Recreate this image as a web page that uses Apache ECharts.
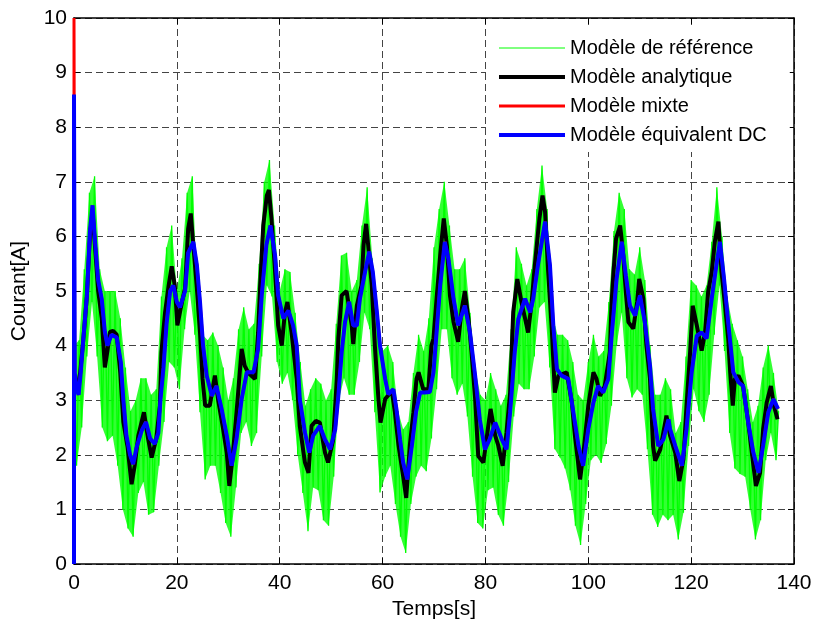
<!DOCTYPE html>
<html><head><meta charset="utf-8">
<script src="https://cdn.jsdelivr.net/npm/echarts@6/dist/echarts.min.js"></script>
<style>html,body{margin:0;padding:0;background:#fff}#c{width:814px;height:620px}</style>
</head><body><div id="c"></div>
<script>
// Series names (legend)
const seriesNames = ['Modèle de référence', 'Modèle analytique', 'Modèle mixte', 'Modèle équivalent DC'];

// Reference model: upper excursions at t = 0,1,2,... and lower excursions at t = 0.5,1.5,...
const refUpper = [4.0,4.1,5.4,6.8,7.1,5.4,5.0,5.0,5.0,4.5,
 3.6,2.8,3.0,3.4,3.4,3.1,3.2,4.9,5.8,6.2,
 5.0,5.6,6.8,7.1,5.0,4.2,4.1,4.24,4.0,3.6,
 3.0,3.4,4.3,4.7,4.3,4.4,5.5,7.0,7.4,6.2,
 5.0,5.4,5.35,4.6,3.7,2.9,3.2,3.4,3.3,3.0,
 3.2,4.4,5.65,5.7,5.0,5.2,6.2,6.9,5.6,4.5,
 3.9,4.0,3.7,2.8,2.47,2.6,3.5,4.2,3.9,4.5,
 5.8,6.5,7.0,6.2,5.4,5.4,5.6,4.6,3.6,3.1,
 3.0,3.5,3.2,2.9,3.1,4.3,5.8,5.5,5.1,5.4,
 6.5,7.3,6.5,4.6,4.2,4.2,4.1,3.7,3.1,3.0,
 3.7,4.2,3.8,3.9,4.8,6.1,6.8,6.5,5.4,5.3,
 5.8,5.2,4.0,3.1,3.1,3.4,3.2,2.4,2.6,3.8,
 5.2,5.1,4.9,5.1,5.9,6.9,6.0,4.9,4.4,4.1,
 3.8,3.2,2.6,2.9,3.6,4.0,3.5,2.8];
const refLower = [1.8,2.5,3.8,4.8,3.8,2.5,2.25,2.35,1.8,1.0,
 0.65,0.5,1.3,1.5,0.9,0.95,1.8,2.6,3.7,3.6,
 3.2,4.3,5.0,4.2,2.78,1.55,1.8,1.8,1.3,0.75,
 0.5,1.4,2.4,2.6,2.16,2.4,3.8,5.1,4.9,3.7,
 3.3,3.5,3.0,2.0,1.3,0.6,1.4,1.35,0.8,0.7,
 1.6,3.0,3.4,3.1,3.1,3.7,4.6,4.3,2.78,1.31,
 1.6,1.8,1.1,0.5,0.2,1.1,1.6,1.8,1.7,2.3,
 3.2,4.3,4.3,3.4,3.1,3.3,2.7,1.6,0.75,0.65,
 1.35,1.4,0.9,0.7,1.5,2.7,3.3,3.2,3.2,3.8,
 4.7,4.8,3.6,2.1,1.95,1.75,1.35,0.7,0.35,1.1,
 1.9,2.0,1.85,2.2,2.9,4.0,4.6,3.4,3.05,3.2,
 3.1,2.1,0.9,0.68,0.9,0.8,0.9,0.45,0.94,2.16,
 3.2,2.8,2.6,3.1,4.2,5.1,3.9,2.4,1.75,1.65,
 1.6,1.0,0.45,0.8,1.9,2.4,1.9];

// Analytic model [t, I]
const analytic = [[0,3.4],[0.6,3.2],[1.2,3.5],[1.8,4.1],[2.5,4.9],[3.1,6.0],[3.6,6.45],[4.1,5.8],[4.7,5.0],[5.4,4.5],[6.0,3.6],[6.5,3.9],[7.0,4.25],[7.6,4.27],[8.3,4.2],[9.0,3.5],[9.6,2.6],[10.4,2.15],[11.2,1.46],[11.8,1.8],[12.5,2.35],[13.6,2.78],[14.4,2.3],[15.1,1.95],[16.0,2.3],[16.7,2.9],[17.0,3.88],[17.7,4.6],[18.4,5.1],[19.0,5.45],[19.6,5.1],[20.1,4.37],[21.0,4.8],[21.6,5.05],[22.2,6.14],[22.7,6.42],[23.2,5.84],[23.9,5.04],[24.5,4.24],[25.0,3.39],[25.5,2.9],[26.4,2.9],[27.4,3.45],[28.0,3.02],[29.0,2.47],[29.7,2.04],[30.2,1.43],[30.8,1.92],[31.6,2.77],[32.6,3.94],[33.2,3.63],[33.9,3.5],[35.2,3.39],[35.8,4.24],[36.2,5.1],[36.8,6.2],[37.5,6.75],[37.9,6.85],[38.4,6.32],[39.1,5.35],[39.7,4.37],[40.4,4.0],[41.0,4.6],[41.5,4.8],[42.3,4.24],[43.3,3.39],[43.9,2.53],[44.9,1.86],[45.6,1.67],[46.2,2.53],[47.0,2.62],[47.8,2.59],[48.8,2.04],[49.4,1.86],[50.4,2.28],[51.1,3.39],[51.4,4.13],[52.05,4.92],[53.0,5.0],[54.0,4.37],[54.3,4.03],[55.0,4.73],[55.9,5.1],[56.3,5.84],[56.8,6.23],[57.2,5.84],[57.9,5.1],[58.5,4.0],[59.2,3.02],[59.6,2.59],[60.5,3.02],[61.8,3.17],[62.4,2.78],[63.1,2.17],[64.0,1.61],[64.6,1.21],[65.3,2.17],[66.0,2.78],[66.6,3.39],[67.0,3.51],[67.9,3.2],[68.9,3.2],[69.5,4.0],[69.9,4.13],[70.5,4.86],[71.2,5.65],[71.9,6.33],[72.5,5.84],[73.1,4.92],[73.8,4.43],[74.7,4.07],[75.4,4.67],[76.0,5.0],[76.7,4.49],[77.3,3.88],[78.0,3.02],[78.6,1.98],[79.6,1.86],[80.2,2.28],[81.0,2.84],[81.9,2.35],[82.5,2.17],[83.35,1.8],[84.1,2.41],[84.8,3.14],[85.4,4.61],[86.2,5.22],[87.0,4.8],[88.3,4.24],[89.0,4.8],[89.6,5.47],[90.5,6.33],[91.1,6.75],[91.6,6.45],[92.2,5.35],[92.9,4.3],[93.5,3.14],[94.2,3.45],[95.8,3.51],[96.8,2.96],[97.4,2.35],[98.4,1.55],[99.0,1.98],[100.0,2.9],[101.0,3.51],[101.6,3.39],[102.3,3.08],[103.2,3.26],[104.2,3.88],[104.5,4.73],[104.9,5.35],[105.4,5.96],[106.2,6.2],[106.8,5.65],[107.3,4.98],[107.8,4.43],[108.75,4.31],[109.5,4.8],[109.9,5.22],[110.7,4.86],[111.3,4.0],[112.0,3.39],[112.6,2.16],[113.0,1.89],[114.0,2.1],[114.6,2.41],[115.2,2.72],[115.9,2.35],[116.9,2.04],[117.7,1.52],[118.5,1.92],[119.1,2.9],[119.8,3.88],[120.3,4.73],[121.1,4.37],[122.05,3.91],[122.7,4.24],[123.3,4.98],[124.0,5.35],[124.6,5.9],[125.3,6.27],[125.9,5.35],[126.6,4.73],[127.2,4.13],[127.6,3.51],[128.1,2.9],[128.5,3.39],[129.2,3.45],[130.1,3.26],[131.1,2.59],[131.8,2.04],[132.6,1.43],[133.4,1.67],[134.0,2.47],[134.7,2.96],[135.5,3.26],[136.1,2.9],[136.8,2.65]];

// DC equivalent model [t, I]
const dcModel = [[0,0],[0,8.6],[0.15,3.5],[0.5,3.2],[0.9,3.1],[1.3,3.5],[1.8,4.1],[2.5,4.9],[3.1,6.1],[3.6,6.57],[4.1,5.9],[4.7,5.2],[5.4,4.85],[6.0,4.25],[6.5,4.0],[7.3,4.2],[8.3,4.15],[9.1,3.7],[9.6,3.0],[10.2,2.35],[10.9,2.0],[11.5,1.83],[12.2,2.15],[13.2,2.45],[14.0,2.6],[14.8,2.3],[15.7,2.2],[16.4,2.4],[16.8,3.0],[17.4,3.6],[18.0,4.4],[18.7,5.0],[19.3,5.1],[20.0,4.8],[20.6,4.7],[21.6,5.0],[22.2,5.7],[23.2,5.9],[23.9,5.47],[24.5,4.8],[25.1,4.0],[25.8,3.45],[26.8,3.08],[27.7,3.26],[28.7,2.84],[29.7,2.35],[30.65,1.8],[31.6,2.29],[32.6,3.02],[33.6,3.51],[34.9,3.51],[35.8,3.94],[36.5,4.92],[37.4,5.84],[38.2,6.2],[39.1,5.65],[39.7,4.92],[40.7,4.5],[41.7,4.64],[42.6,4.37],[43.3,4.0],[43.9,3.02],[44.9,2.41],[45.75,2.04],[46.5,2.35],[47.8,2.53],[48.8,2.28],[49.8,2.1],[50.8,2.47],[51.4,3.08],[52.05,3.88],[52.7,4.43],[53.5,4.8],[54.3,4.37],[55.0,4.37],[55.6,4.86],[56.6,5.35],[57.4,5.72],[58.1,5.35],[58.9,4.61],[59.5,4.0],[60.5,3.39],[61.1,3.11],[62.1,3.2],[62.7,2.84],[63.4,2.28],[64.0,1.86],[64.8,1.55],[65.7,2.17],[66.5,2.78],[67.3,3.14],[68.2,3.14],[69.2,3.15],[69.9,3.51],[70.5,4.24],[71.2,5.1],[72.1,5.9],[72.8,5.59],[73.8,4.86],[74.7,4.37],[76.0,4.73],[77.0,4.24],[78.0,3.45],[78.9,2.65],[79.9,2.1],[80.8,2.28],[81.9,2.59],[83.2,2.28],[84.1,2.1],[84.8,2.78],[85.7,3.88],[86.4,4.49],[87.7,4.86],[88.7,4.61],[89.3,4.86],[90.3,5.53],[91.6,6.27],[92.55,5.47],[93.2,4.37],[93.9,3.57],[94.8,3.45],[96.1,3.39],[97.1,2.78],[98.1,2.16],[99.0,1.8],[100.0,2.47],[101.0,2.96],[101.9,3.26],[102.9,3.14],[103.9,3.39],[104.5,4.13],[105.5,5.22],[106.5,5.9],[107.3,5.29],[108.1,4.73],[109.1,4.55],[110.05,4.92],[111.0,4.43],[112.0,3.63],[112.6,2.84],[113.6,2.16],[114.6,2.28],[115.6,2.65],[115.9,2.47],[116.9,2.17],[118.2,1.8],[119.1,2.47],[120.1,3.51],[121.1,4.18],[122.05,4.24],[123.0,4.13],[124.0,4.86],[125.0,5.53],[125.6,5.9],[126.4,5.22],[127.2,4.43],[128.2,3.51],[129.2,3.33],[130.1,3.26],[131.1,2.59],[132.1,2.04],[133.1,1.67],[134.0,2.17],[135.0,2.78],[136.0,3.02],[136.9,2.84]];

// Mixed model: coincides with the DC model except for its initial peak
const mixtePeak = 10;
const mixte = dcModel.map((p, i) => (i === 1 ? [p[0], mixtePeak] : p));

// Axis ticks
const xTicks = { min: 0, max: 140, interval: 20 };
const yTicks = { min: 0, max: 10, interval: 1 };

// Build reference zigzag from read excursions
const ref = [];
for (let i = 0; i < refUpper.length; i++) {
  ref.push([i, refUpper[i]]);
  if (i < refLower.length) ref.push([i + 0.5, refLower[i]]);
}
const upperPts = refUpper.map((v, i) => [i, v]);
const lowerPts = refLower.map((v, i) => [i + 0.5, v]);

const FONT = '"Liberation Sans", Arial, Helvetica, sans-serif';
const gridLine = { show: true, lineStyle: { color: '#444', type: [7, 4], width: 1 } };
const axisLineStyle = { show: true, onZero: false, lineStyle: { color: '#000', width: 1.5 } };
const tickStyle = { show: true, inside: true, length: 6, lineStyle: { color: '#000', width: 1 } };

const chart = echarts.init(document.getElementById('c'), null, { renderer: 'canvas' });
chart.setOption({
  animation: false,
  backgroundColor: '#fff',
  grid: { left: 74, right: 20, top: 18, bottom: 56, containLabel: false, outerBoundsMode: 'none' },
  xAxis: [
    { type: 'value', position: 'bottom', ...xTicks,
      name: 'Temps[s]', nameLocation: 'middle', nameGap: 31,
      nameTextStyle: { fontSize: 21, color: '#000', fontFamily: FONT },
      axisLine: axisLineStyle, axisTick: tickStyle,
      axisLabel: { fontSize: 21, color: '#000', fontFamily: FONT, margin: 9, showMinLabel: true, showMaxLabel: true },
      splitLine: gridLine },
    { type: 'value', position: 'top', ...xTicks,
      axisLine: axisLineStyle, axisTick: tickStyle, axisLabel: { show: false }, splitLine: { show: false } }
  ],
  yAxis: [
    { type: 'value', position: 'left', ...yTicks,
      name: 'Courant[A]', nameLocation: 'middle', nameGap: 44, nameRotate: 90,
      nameTextStyle: { fontSize: 21, color: '#000', fontFamily: FONT },
      axisLine: axisLineStyle, axisTick: tickStyle,
      axisLabel: { fontSize: 21, color: '#000', fontFamily: FONT, margin: 7, showMinLabel: true, showMaxLabel: true },
      splitLine: gridLine },
    { type: 'value', position: 'right', ...yTicks,
      axisLine: axisLineStyle, axisTick: tickStyle, axisLabel: { show: false }, splitLine: { show: false } }
  ],
  legend: {
    data: [
      { name: seriesNames[0], lineStyle: { width: 1 } },
      { name: seriesNames[1] },
      { name: seriesNames[2] },
      { name: seriesNames[3] }
    ],
    orient: 'vertical',
    left: 486, top: 27,
    backgroundColor: '#fff',
    padding: [11, 23, 7, 11],
    itemWidth: 66, itemHeight: 14, itemGap: 9,
    selectedMode: false,
    itemStyle: { opacity: 0, borderWidth: 0 },
    lineStyle: { width: 'inherit' },
    textStyle: { fontSize: 20, color: '#000', fontFamily: FONT }
  },
  series: [
    { name: 'refBand', type: 'custom', coordinateSystem: 'cartesian2d', silent: true,
      data: [[0, 0]],
      renderItem: function (params, api) {
        const pts = upperPts.map(p => api.coord(p)).concat(lowerPts.slice().reverse().map(p => api.coord(p)));
        return { type: 'polygon', shape: { points: pts }, style: { fill: 'rgba(0,255,0,0.8)', stroke: null } };
      } },
    { name: seriesNames[0], type: 'line', data: ref, symbol: 'none', lineStyle: { color: '#00ff00', width: 1.3 }, itemStyle: { color: '#00ff00' } },
    { name: seriesNames[1], type: 'line', data: analytic, symbol: 'none', lineStyle: { color: '#000000', width: 4 }, itemStyle: { color: '#000000' } },
    { name: seriesNames[2], type: 'line', data: mixte, symbol: 'none', lineStyle: { color: '#ff0000', width: 3 }, itemStyle: { color: '#ff0000' } },
    { name: seriesNames[3], type: 'line', data: dcModel, symbol: 'none', lineStyle: { color: '#0000ff', width: 4 }, itemStyle: { color: '#0000ff' } }
  ]
});
</script>
</body></html>
